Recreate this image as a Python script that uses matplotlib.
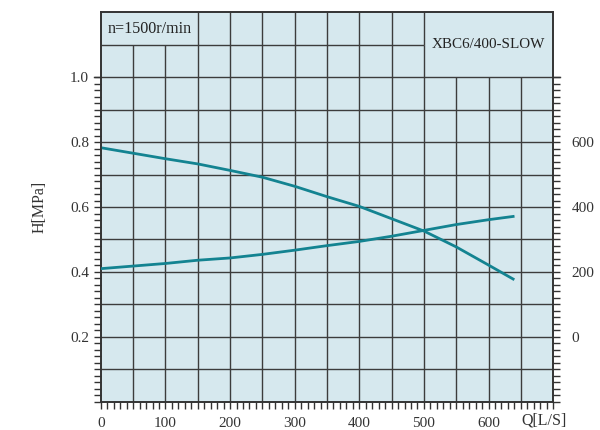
import numpy as np
import matplotlib.pyplot as plt
from matplotlib.ticker import FixedLocator

plt.rcParams['font.family'] = ['Liberation Serif', 'DejaVu Serif']

# head curve, left axis (MPa)
q_h = [0, 50, 100, 150, 200, 250, 300, 350, 400, 450, 500, 550, 600, 638]
h = [0.783, 0.766, 0.749, 0.733, 0.713, 0.692, 0.664, 0.632, 0.602, 0.564, 0.526, 0.477, 0.421, 0.378]

# second curve, right axis
q_p = [0, 50, 100, 150, 200, 250, 300, 350, 400, 450, 500, 550, 600, 638]
p = [210, 218, 226, 236, 243, 254, 267, 281, 294, 310, 328, 346, 361, 371]

speed_text = "n=1500r/min"
model_text = "XBC6/400-SLOW"

bg = '#d6e8ee'
grid_c = '#3c3c3c'
line_c = '#138391'
txt_c = '#333333'

fig = plt.figure(figsize=(6, 4.3), dpi=100)
ax = fig.add_axes([0.168, 0.066, 0.754, 0.905])
ax.set_facecolor(bg)
ax.set_xlim(0, 700)
ax.set_ylim(0, 1.2)

# grid of the body
ax.vlines(np.arange(50, 700, 50), 0, 1.0, color=grid_c, lw=1.0, zorder=1)
ax.hlines(np.arange(0.1, 0.95, 0.1), 0, 700, color=grid_c, lw=1.0, zorder=1)
# header rows
ax.vlines(np.arange(50, 550, 50), 1.0, 1.1, color=grid_c, lw=1.0, zorder=1)
ax.vlines(np.arange(150, 550, 50), 1.1, 1.2, color=grid_c, lw=1.0, zorder=1)
ax.hlines(1.1, 0, 500, color=grid_c, lw=1.0, zorder=1)
ax.plot([-10, 710], [1.0, 1.0], color=grid_c, lw=1.0, clip_on=False, zorder=1)

ax.text(75, 1.15, speed_text, ha='center', va='center', fontsize=11.6, color='#222222')
ax.text(600, 1.1, model_text, ha='center', va='center', fontsize=10.9, color='#222222')

for s in ax.spines.values():
    s.set_color(txt_c)
    s.set_linewidth(1.2)

ax.plot(q_h, h, color=line_c, lw=2.0, zorder=3)

ax.xaxis.set_major_locator(FixedLocator(np.arange(0, 700, 100)))
ax.xaxis.set_minor_locator(FixedLocator(np.arange(0, 701, 10)))
ax.yaxis.set_major_locator(FixedLocator([0.2, 0.4, 0.6, 0.8, 1.0]))
ax.yaxis.set_minor_locator(FixedLocator(np.arange(0, 1.001, 0.02)))
ax.set_yticklabels(['0.2', '0.4', '0.6', '0.8', '1.0'])
ax.tick_params(which='both', direction='out', length=5, width=1.0, color=txt_c,
               labelsize=11, labelcolor=txt_c)
ax.tick_params(axis='x', pad=6)
ax.set_ylabel('H[MPa]', fontsize=11.5, color=txt_c, labelpad=16)
ax.text(0.98, -0.028, 'Q[L/S]', transform=ax.transAxes, ha='center', va='top',
        fontsize=11.5, color=txt_c)

ax2 = ax.twinx()
ax2.set_ylim(-200, 1000)
ax2.plot(q_p, p, color=line_c, lw=2.0, zorder=3)
ax2.yaxis.set_major_locator(FixedLocator([0, 200, 400, 600]))
ax2.yaxis.set_minor_locator(FixedLocator(np.arange(-200, 801, 20)))
ax2.tick_params(which='both', direction='out', length=5, width=1.0, color=txt_c,
                labelsize=11, labelcolor=txt_c, pad=8)
for s in ax2.spines.values():
    s.set_color(txt_c)
    s.set_linewidth(1.2)

fig.savefig('out.png', dpi=100)
